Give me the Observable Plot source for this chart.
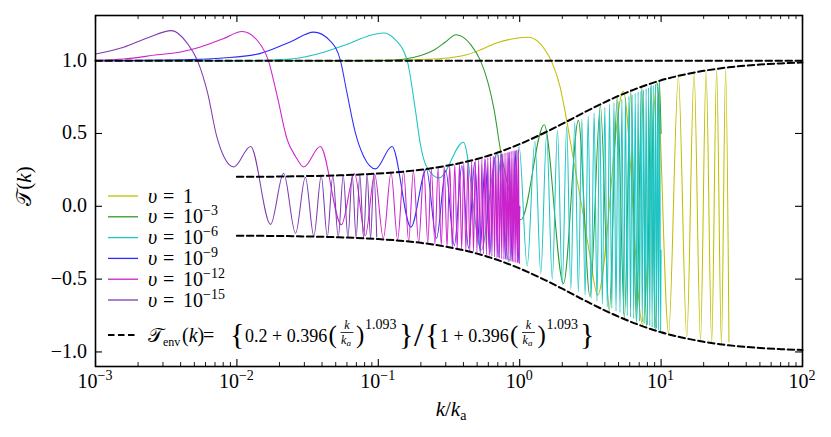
<!DOCTYPE html>
<html><head><meta charset="utf-8">
<script src="https://cdn.jsdelivr.net/npm/d3@7"></script>
<script src="https://cdn.jsdelivr.net/npm/@observablehq/plot@0.6"></script>
<style>
body{margin:0;background:#fff;}
#chart{width:831px;height:437px;}
</style></head><body><div id="chart"></div>
<script>
// ---------- data ----------
// upsilon = 1
const k_u0 = [0.001,0.05,0.1,0.2,0.31,0.42,0.53,0.7,0.9,1.15,1.35,1.52,1.68,1.93,2.15,2.4,2.75,3.14,3.56,5.4,7.4,9.35,11.3,13.25,15.2,17.1,19.0,20.8,22.8,24.7,26.7,28.6,30.2];
const T_u0 = [1.0,1.0,1.002,1.008,1.018,1.04,1.075,1.125,1.15,1.16,1.13,1.07,0.995,0.82,0.59,0.32,0.0,-0.34,-0.61,0.79,-0.81,0.85,-0.87,0.89,-0.9,0.915,-0.92,0.925,-0.935,0.937,-0.945,0.94,-0.93];
// upsilon = 1e-3
const k_u3 = [0.001,0.1,0.15,0.2,0.25,0.3,0.355,0.4,0.45,0.528,0.6,0.66,0.73,0.8,0.86,1.02,1.49,2.04,2.6,3.14,3.72,4.3,4.9,5.5,6.1,6.7,7.3,7.9,8.5,9.1,9.7,10.0];
const T_u3 = [1.0,1.0,1.01,1.035,1.075,1.13,1.178,1.16,1.11,1.0,0.84,0.66,0.39,0.2,0.07,-0.093,0.56,-0.53,0.59,-0.62,0.69,-0.72,0.75,-0.77,0.79,-0.8,0.82,-0.83,0.84,-0.85,0.86,0.5];
// upsilon = 1e-6
const k_u6 = [0.001,0.01,0.024,0.041,0.05,0.063,0.085,0.109,0.13,0.16,0.183,0.198,0.22,0.27,0.40,0.535,0.69,0.84,0.99,1.13,1.28,1.41,1.55,1.70,1.85,2.0,2.15,
  2.3,2.45,2.6,2.75,2.9,3.05,3.2,3.36,3.52,3.68,3.84,4.0,4.16,4.32,4.48,4.64,4.8,4.96,5.12,5.28,5.44,5.6,5.76,5.92,6.08,6.24,6.4,6.56,6.72,6.88,7.04,7.2,7.36,7.52,7.68,7.84,8.0,8.16,8.32,8.48,8.64,8.8,8.96,9.12,9.28,9.44,9.6,9.76,9.92,10.0];
const T_u6 = [1.0,1.0,1.011,1.057,1.085,1.12,1.17,1.19,1.15,1.0,0.66,0.43,0.27,0.195,0.44,-0.30,0.36,-0.38,0.41,-0.41,0.445,-0.46,0.49,-0.5,0.52,-0.54,0.55,
  -0.57,0.58,-0.59,0.6,-0.61,0.62,-0.63,0.64,-0.65,0.66,-0.67,0.68,-0.69,0.70,-0.70,0.71,-0.72,0.72,-0.73,0.735,-0.74,0.745,-0.75,0.755,-0.76,0.765,-0.77,0.775,-0.78,0.785,-0.79,0.79,-0.795,0.80,-0.805,0.81,-0.815,0.815,-0.82,0.825,-0.83,0.83,-0.835,0.84,-0.84,0.845,-0.85,0.85,-0.855,-0.3];
// upsilon = 1e-9
const k_u9 = [0.001,0.0047,0.008,0.0147,0.024,0.0349,0.046,0.054,0.06,0.069,0.079,0.0955,0.125,0.17,0.219,0.258,0.30,0.345,0.39,0.435,0.48,0.525,0.57,0.615,0.66,0.705,0.75,0.795,0.84,0.885,0.93,0.975,1.0];
const T_u9 = [1.0,1.007,1.018,1.05,1.13,1.196,1.133,1.0,0.78,0.5,0.34,0.257,0.41,-0.143,0.255,-0.22,0.246,-0.27,0.28,-0.29,0.30,-0.31,0.32,-0.33,0.34,-0.35,0.355,-0.36,0.37,-0.375,0.38,-0.385,0.0];
// upsilon = 1e-12
const k_u12 = [0.001,0.00158,0.00273,0.004,0.00553,0.008,0.0109,0.0139,0.0167,0.0193,0.0227,0.026,0.0297,0.0389,0.0548,0.0679,0.081,0.0942,0.1086,0.1231,0.137,0.1512,0.164,0.177,0.193,0.21,
  0.2238,0.2375,0.2513,0.265,0.2788,0.2925,0.3063,0.32,0.3338,0.3475,0.3613,0.375,0.3888,0.4025,0.4163,0.43,0.4438,0.4575,0.4713,0.485,0.4988,0.5125,0.5263,0.54,0.5538,0.5675,0.5813,0.595,0.6088,0.6225,0.6363,0.65,0.6638,0.6775,0.6913,0.705,0.7188,0.7325,0.7463,0.76,0.7738,0.7875,0.8013,0.815,0.8288,0.8425,0.8563,0.87,0.8838,0.8975,0.9113,0.925,0.9388,0.9525,0.9663,0.98,0.9938,1.0];
const T_u12 = [1.003,1.011,1.04,1.06,1.094,1.15,1.2,1.14,1.0,0.754,0.457,0.342,0.27,0.41,-0.127,0.225,-0.2,0.22,-0.22,0.23,-0.23,0.237,-0.24,0.243,-0.247,0.25,
  -0.25,0.255,-0.26,0.265,-0.268,0.272,-0.275,0.278,-0.282,0.285,-0.288,0.29,-0.293,0.296,-0.299,0.302,-0.305,0.308,-0.31,0.313,-0.316,0.318,-0.321,0.324,-0.327,0.33,-0.332,0.334,-0.337,0.34,-0.342,0.345,-0.347,0.349,-0.352,0.354,-0.356,0.358,-0.36,0.362,-0.364,0.366,-0.368,0.37,-0.372,0.374,-0.376,0.378,-0.38,0.381,-0.383,0.385,-0.386,0.388,-0.389,0.39,-0.392,0.0];
// upsilon = 1e-15
const k_u15 = [0.001,0.00158,0.00232,0.00345,0.00445,0.00526,0.0062,0.0072,0.0081,0.0095,0.0125,0.0173,0.0214,0.026,0.0305,0.035,0.0395,0.0436,0.0477,0.0521,0.0565,0.061,0.0654,0.0697,0.074,0.0787,0.0834,0.0882,0.093,0.0975];
const T_u15 = [1.046,1.092,1.156,1.206,1.12,1.0,0.78,0.48,0.34,0.27,0.41,-0.124,0.227,-0.185,0.2,-0.205,0.208,-0.208,0.21,-0.21,0.212,-0.213,0.214,-0.215,0.216,-0.218,0.219,-0.22,0.22,-0.21];
// envelope T_env(k) (upper branch; lower branch is its mirror)
const k_env = [0.01,0.015,0.02,0.03,0.05,0.07,0.1,0.15,0.2,0.3,0.5,0.7,1,1.5,2,3,5,7,10,15,20,30,50,70,100];
const T_env = [0.202,0.203,0.204,0.207,0.212,0.217,0.225,0.238,0.251,0.277,0.325,0.369,0.427,0.505,0.566,0.655,0.758,0.815,0.865,0.907,0.930,0.954,0.973,0.981,0.987];
// unity line
const k_one = [0.001,100];
const T_one = [1,1];
// labels
const legendExp = ["", "\u22123", "\u22126", "\u22129", "\u221212", "\u221215"];
const xTicks = [1e-3,1e-2,1e-1,1,10,100];
const xTickExp = ["\u22123","\u22122","\u22121","0","1","2"];
const yTicks = [-1,-0.5,0,0.5,1];
const yTickLabels = ["\u22121.0","\u22120.5","0.0","0.5","1.0"];

// ---------- styles ----------
const colors = ["#bfbf00","#2e9a2e","#1fc4c4","#2b2bff","#cc22cc","#7e3bb0"];
const seriesK = [k_u0,k_u3,k_u6,k_u9,k_u12,k_u15];
const seriesT = [T_u0,T_u3,T_u6,T_u9,T_u12,T_u15];
const rows = (ks, ts) => ks.map((k, i) => ({k, T: ts[i]}));
const envRows = rows(k_env, T_env);
const minorTicks = [];
for (const d of [1e-3,1e-2,1e-1,1,10]) for (let m = 2; m <= 9; m++) minorTicks.push(d*m);

const W = 831, H = 437, mL = 95, mR = 29, mT = 15, mB = 71;
const iW = W - mL - mR, iH = H - mT - mB;
const dash = "6.5,3.5";

const marks = [];
seriesK.forEach((ks, i) => {
  marks.push(Plot.line(rows(ks, seriesT[i]), {x: "k", y: "T", stroke: colors[i], strokeWidth: 1.05, curve: "monotone-x"}));
});
marks.push(Plot.line(rows(k_one, T_one), {x: "k", y: "T", stroke: "black", strokeWidth: 2, strokeDasharray: dash}));
marks.push(Plot.line(envRows, {x: "k", y: "T", stroke: "black", strokeWidth: 2, strokeDasharray: dash, curve: "monotone-x"}));
marks.push(Plot.line(envRows, {x: "k", y: d => -d.T, stroke: "black", strokeWidth: 2, strokeDasharray: dash, curve: "monotone-x"}));
// inward ticks on all four sides
marks.push(Plot.tickX(xTicks, {x: d => d, insetTop: iH - 7, stroke: "black", strokeWidth: 1.1}));
marks.push(Plot.tickX(xTicks, {x: d => d, insetBottom: iH - 7, stroke: "black", strokeWidth: 1.1}));
marks.push(Plot.tickX(minorTicks, {x: d => d, insetTop: iH - 4, stroke: "black", strokeWidth: 0.9}));
marks.push(Plot.tickX(minorTicks, {x: d => d, insetBottom: iH - 4, stroke: "black", strokeWidth: 0.9}));
marks.push(Plot.tickY(yTicks, {y: d => d, insetRight: iW - 7, stroke: "black", strokeWidth: 1.1}));
marks.push(Plot.tickY(yTicks, {y: d => d, insetLeft: iW - 7, stroke: "black", strokeWidth: 1.1}));
marks.push(Plot.frame({stroke: "black", strokeWidth: 1.6}));

const chart = Plot.plot({
  width: W, height: H,
  marginLeft: mL, marginRight: mR, marginTop: mT, marginBottom: mB,
  x: {type: "log", domain: [1e-3, 1e2], axis: null},
  y: {domain: [-1.1, 1.31], axis: null},
  style: {background: "white"},
  marks
});
document.getElementById("chart").append(chart);

// ---------- text: tick labels, axis titles, legend ----------
const xs = chart.scale("x"), ys = chart.scale("y");
const svg = d3.select(chart);
const FONT = "'Liberation Serif', 'DejaVu Serif', serif";
const g = svg.append("g").attr("text-anchor", "start").attr("font-family", FONT).style("fill", "black");

function mk(x, y, size, anchor) {
  return g.append("text").attr("x", x).attr("y", y)
    .attr("text-anchor", anchor || "start")
    .style("font-family", FONT).style("font-size", size + "px");
}
function txt(x, y, s, size, opts = {}) {
  const t = mk(x, y, size, opts.anchor).style("font-style", opts.italic ? "italic" : "normal");
  t.text(s);
  return t;
}

// x tick labels
xTicks.forEach((v, i) => {
  const t = mk(xs.apply(v), 388, 20, "middle");
  t.append("tspan").text("10");
  t.append("tspan").style("font-size", "14px").attr("dy", -8).text(xTickExp[i]);
});
// y tick labels
yTicks.forEach((v, i) => {
  txt(87, ys.apply(v) + 6.5, yTickLabels[i], 20, {anchor: "end"});
});
// x axis title
{
  const t = mk(451, 416, 21, "middle");
  t.append("tspan").style("font-style", "italic").text("k");
  t.append("tspan").text("/");
  t.append("tspan").style("font-style", "italic").text("k");
  t.append("tspan").style("font-size", "14px").attr("dy", 4).text("a");
}
// y axis title
{
  const t = mk(0, 0, 21, "middle").attr("transform", "translate(31,186) rotate(-90)");
  t.append("tspan").text("\u{1D4AF}(");
  t.append("tspan").style("font-style", "italic").text("k");
  t.append("tspan").text(")");
}

// legend
const legY = [196, 216.8, 237.6, 258.4, 279.2, 300];
colors.forEach((c, i) => {
  g.append("line").attr("x1", 108).attr("x2", 138).attr("y1", legY[i]).attr("y2", legY[i])
    .style("stroke", c).style("stroke-width", 1.3);
  const b = legY[i] + 6.5;
  txt(148, b, "\u03C5", 20, {italic: true});
  txt(163, b, "=", 20);
  const t = mk(183, b, 20);
  if (i === 0) t.text("1");
  else {
    t.append("tspan").text("10");
    t.append("tspan").style("font-size", "14px").attr("dy", -8).text(legendExp[i]);
  }
});
// envelope legend entry
{
  const y0 = 335, b = 341.5;
  g.append("line").attr("x1", 108).attr("x2", 138).attr("y1", y0).attr("y2", y0)
    .style("stroke", "black").style("stroke-width", 2).style("stroke-dasharray", dash);
  txt(148, b, "\u{1D4AF}", 20);
  txt(163, b + 4, "env", 12);
  const p = mk(182, b, 20);
  p.append("tspan").text("(");
  p.append("tspan").style("font-style", "italic").text("k");
  p.append("tspan").text(")");
  txt(203, b, "=", 20);
  const frac = (cx) => {
    txt(cx, 328.5, "k", 12, {italic: true, anchor: "middle"});
    g.append("line").attr("x1", cx - 6.5).attr("x2", cx + 6.5).attr("y1", 332.5).attr("y2", 332.5).style("stroke", "black").style("stroke-width", 0.8);
    const d = mk(cx - 1, 343.5, 12, "middle").style("font-style", "italic");
    d.append("tspan").text("k");
    d.append("tspan").style("font-size", "9px").attr("dy", 2).text("a");
  };
  txt(230, 344, "{", 30);
  txt(245, b, "0.2 + 0.396", 18);
  txt(328.5, 343, "(", 25);
  frac(347);
  txt(356, 343, ")", 25);
  txt(365, 329, "1.093", 14);
  txt(399, 344, "}", 30);
  txt(414, 346, "/", 34);
  txt(425, 344, "{", 30);
  txt(440, b, "1 + 0.396", 18);
  txt(510, 343, "(", 25);
  frac(528.5);
  txt(537.5, 343, ")", 25);
  txt(546.5, 329, "1.093", 14);
  txt(580, 344, "}", 30);
}
</script>
</body></html>
